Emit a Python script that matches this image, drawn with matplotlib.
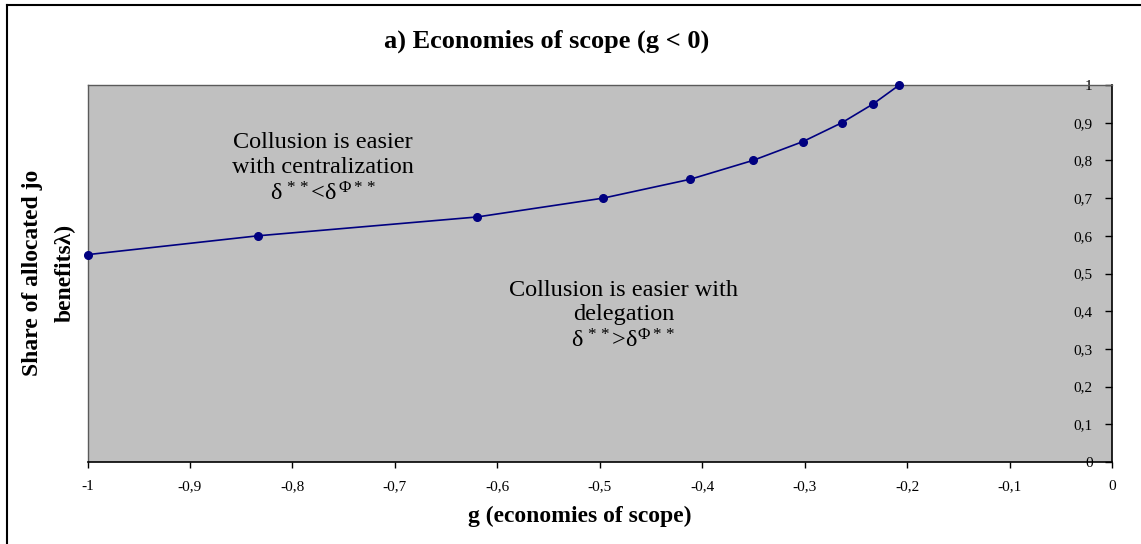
import matplotlib
matplotlib.use("Agg")
import matplotlib.pyplot as plt
from matplotlib.lines import Line2D
from matplotlib.ticker import FuncFormatter, MultipleLocator

plt.rcParams['font.family'] = ['Liberation Serif', 'DejaVu Serif']
plt.rcParams['mathtext.fontset'] = 'stix'
plt.rcParams['mathtext.default'] = 'regular'

# data
g_values = [-1.0, -0.8336, -0.6195, -0.4965, -0.4116, -0.3504, -0.3016, -0.2636, -0.2330, -0.2076]
share_lambda = [0.55, 0.60, 0.65, 0.70, 0.75, 0.80, 0.85, 0.90, 0.95, 1.00]

title = "a) Economies of scope (g < 0)"
xlabel = "g (economies of scope)"
ylabel = "Share of allocated jo\nbenefits\u03bb)"
note_centr = "Collusion is easier\nwith centralization\n\u03b4$^{\\,**}$<\u03b4$^{\\,\u03a6**}$"
note_deleg = "Collusion is easier with\ndelegation\n\u03b4$^{\\,**}$>\u03b4$^{\u03a6**}$"

W, H = 1141, 544
fig = plt.figure(figsize=(W / 100, H / 100), dpi=100)
ax = fig.add_axes([87.5 / W, 1 - 462 / H, (1112 - 87.5) / W, (462 - 85) / H])
ax.set_facecolor('#C0C0C0')

ax.plot(g_values, share_lambda, color='#000080', lw=1.2, marker='o', markersize=5.5,
        markerfacecolor='#000080', markeredgecolor='#000080', clip_on=False, zorder=5)

ax.set_xlim(-1, 0)
ax.set_ylim(0, 1)
ax.xaxis.set_major_locator(MultipleLocator(0.1))
ax.yaxis.set_major_locator(MultipleLocator(0.1))

def fmt(v, pos):
    v = round(v, 1)
    if v == 0:
        return "0"
    if v == int(v):
        return str(int(v))
    return ("%.1f" % v).replace('.', ',')

ax.xaxis.set_major_formatter(FuncFormatter(fmt))
ax.yaxis.set_major_formatter(FuncFormatter(fmt))

for s in ['top', 'left']:
    ax.spines[s].set_color('#5a5a5a')
    ax.spines[s].set_linewidth(1.0)
for s in ['bottom', 'right']:
    ax.spines[s].set_color('black')
    ax.spines[s].set_linewidth(1.2)

ax.tick_params(axis='x', direction='out', length=4, width=1, labelsize=11, pad=9, colors='black')
ax.tick_params(axis='y', left=False, labelleft=False, right=True, labelright=True,
               direction='in', length=5, width=1, labelsize=11, pad=-14)
for lab in ax.get_yticklabels():
    lab.set_horizontalalignment('right')

ax.text(-0.770, 0.777, note_centr, ha='center', va='center', fontsize=17.5, linespacing=1.25)
ax.text(-0.477, 0.387, note_deleg, ha='center', va='center', fontsize=17.5, linespacing=1.22)

fig.text(547 / W, 1 - 41 / H, title, ha='center', va='center',
         fontsize=19, fontweight='bold')
fig.text(580 / W, 1 - 516 / H, xlabel, ha='center', va='center',
         fontsize=17, fontweight='bold')
fig.text(49 / W, 1 - 273 / H, ylabel, ha='center', va='center', rotation=90,
         fontsize=17, fontweight='bold', linespacing=1.75)

# figure border (left and top visible)
fig.add_artist(Line2D([7 / W, 7 / W], [0, 1 - 4.5 / H], transform=fig.transFigure,
                      color='black', lw=1.5))
fig.add_artist(Line2D([7 / W, 1], [1 - 4.5 / H, 1 - 4.5 / H], transform=fig.transFigure,
                      color='black', lw=1.5))

fig.savefig("out.png", dpi=100)
